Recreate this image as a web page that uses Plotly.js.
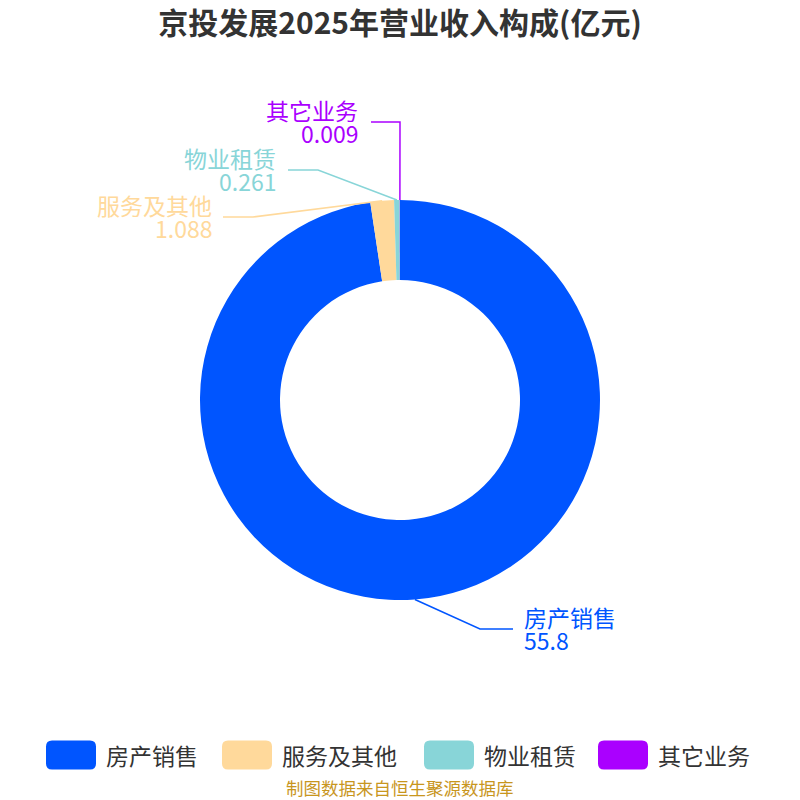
<!DOCTYPE html>
<html>
<head>
<meta charset="utf-8">
<script src="https://cdn.plot.ly/plotly-3.0.1.min.js"></script>
<style>html,body{margin:0;padding:0;background:#fff}#chart{width:800px;height:800px}</style>
</head>
<body>
<div id="chart"></div>
<script>
// ---- data ----
var categories = ['房产销售', '服务及其他', '物业租赁', '其它业务'];
var values = [55.8, 1.088, 0.261, 0.009];
var valueLabels = ['55.8', '1.088', '0.261', '0.009'];
var colors = ['#0055FF', '#FFD99B', '#88D5D8', '#AA00FF'];

// ---- layout config (pixels) ----
var W = 800, H = 800;
var CX = 400, CY = 400, R = 200;
var FONT = '"Noto Sans CJK SC", "Noto Sans", sans-serif';
// leader line elbows / ends and label anchors per category
var labelCfg = [
  {elbow: [480, 629], end: [513, 629], tx: 522, side: 'left'},
  {elbow: [253, 217], end: [223, 217], tx: 214, side: 'right'},
  {elbow: [318, 170], end: [288, 170], tx: 278, side: 'right'},
  {elbow: [400, 122], end: [371, 122], tx: 360, side: 'right'}
];

function px(x) { return x / W; }
function py(y) { return 1 - y / H; }

var total = values.reduce(function (a, b) { return a + b; }, 0);
var shapes = [], annotations = [];
var cum = 0;
values.forEach(function (v, i) {
  var mid = (cum + v / 2) / total * 2 * Math.PI;
  cum += v;
  var ex = CX + R * Math.sin(mid), ey = CY - R * Math.cos(mid);
  var c = labelCfg[i];
  shapes.push({
    type: 'path', xref: 'paper', yref: 'paper',
    path: 'M ' + px(ex) + ' ' + py(ey) + ' L ' + px(c.elbow[0]) + ' ' + py(c.elbow[1]) +
          ' L ' + px(c.end[0]) + ' ' + py(c.end[1]),
    line: {color: colors[i], width: 1.5}
  });
  annotations.push({
    xref: 'paper', yref: 'paper', x: px(c.tx), y: py(c.end[1] - 12),
    xanchor: c.side, yanchor: 'middle', showarrow: false,
    text: categories[i],
    font: {family: FONT, size: 23, color: colors[i]}
  });
  annotations.push({
    xref: 'paper', yref: 'paper', x: px(c.tx), y: py(c.end[1] + 11),
    xanchor: c.side, yanchor: 'middle', showarrow: false,
    text: valueLabels[i],
    font: {family: FONT, size: 23, color: colors[i]}
  });
});

// custom legend
var legX = [46, 222, 424, 598];
var legY = 755, swW = 50, swH = 29, rr = 6;
categories.forEach(function (cat, i) {
  var x0 = legX[i], x1 = x0 + swW, y0 = legY - swH / 2, y1 = legY + swH / 2;
  var p = 'M ' + px(x0 + rr) + ' ' + py(y0) +
    ' L ' + px(x1 - rr) + ' ' + py(y0) +
    ' Q ' + px(x1) + ' ' + py(y0) + ' ' + px(x1) + ' ' + py(y0 + rr) +
    ' L ' + px(x1) + ' ' + py(y1 - rr) +
    ' Q ' + px(x1) + ' ' + py(y1) + ' ' + px(x1 - rr) + ' ' + py(y1) +
    ' L ' + px(x0 + rr) + ' ' + py(y1) +
    ' Q ' + px(x0) + ' ' + py(y1) + ' ' + px(x0) + ' ' + py(y1 - rr) +
    ' L ' + px(x0) + ' ' + py(y0 + rr) +
    ' Q ' + px(x0) + ' ' + py(y0) + ' ' + px(x0 + rr) + ' ' + py(y0) + ' Z';
  shapes.push({type: 'path', xref: 'paper', yref: 'paper', path: p,
    fillcolor: colors[i], line: {width: 0}});
  annotations.push({
    xref: 'paper', yref: 'paper', x: px(x1 + 8), y: py(legY),
    xanchor: 'left', yanchor: 'middle', showarrow: false, text: cat,
    font: {family: FONT, size: 23, color: '#333333'}
  });
});

// source note
annotations.push({
  xref: 'paper', yref: 'paper', x: 0.5, y: py(787), xanchor: 'center', yanchor: 'middle',
  showarrow: false, text: '制图数据来自恒生聚源数据库',
  font: {family: FONT, size: 17.5, color: '#C8961E'}
});

var trace = {
  type: 'pie',
  labels: categories,
  values: values,
  hole: 0.6,
  sort: false,
  direction: 'clockwise',
  rotation: 0,
  textinfo: 'none',
  marker: {colors: colors, line: {width: 0}},
  domain: {x: [px(CX - R), px(CX + R)], y: [py(CY + R), py(CY - R)]},
  showlegend: false
};

var layout = {
  width: W, height: H,
  margin: {l: 0, r: 0, t: 0, b: 0},
  paper_bgcolor: '#ffffff',
  title: {text: '<b>京投发展2025年营业收入构成(亿元)</b>', x: 0.5, xanchor: 'center',
    y: py(23), yanchor: 'middle', yref: 'paper',
    font: {family: FONT, size: 30, color: '#333333'}},
  showlegend: false,
  shapes: shapes,
  annotations: annotations
};

Plotly.newPlot('chart', [trace], layout, {displayModeBar: false, staticPlot: true});
</script>
</body>
</html>
